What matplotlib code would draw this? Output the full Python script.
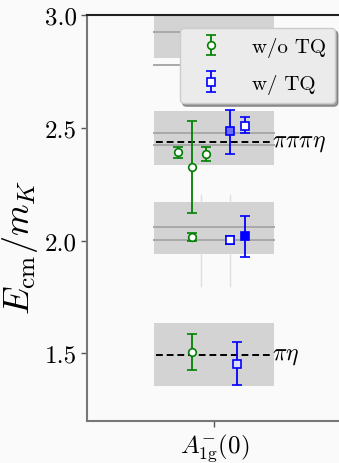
import numpy as np
import matplotlib
matplotlib.use("Agg")
from matplotlib import pyplot as plt

plt.rcParams['font.family'] = 'serif'
plt.rcParams['font.serif'] = ['cmr10']
plt.rcParams['mathtext.fontset'] = 'cm'
plt.rcParams['axes.formatter.use_mathtext'] = True

BG = '#fafafa'

# grey bands: (bottom, top) of each energy window
band_lo = [1.353, 1.942, 2.333, 2.810]
band_hi = [1.636, 2.170, 2.574, 3.080]
# reference levels drawn inside the bands
levels = [2.058, 2.001, 2.477, 2.422, 2.923, 2.779]
# thresholds
thr_y = [1.494, 2.437]
thr_label = [r'$\pi\eta$', r'$\pi\pi\pi\eta$']

# without TQ (green circles)
g_x = [-0.087, -0.087, -0.144, -0.087, -0.032]
g_y = [1.506, 2.015, 2.392, 2.324, 2.384]
g_lo = [0.080, 0.018, 0.025, 0.203, 0.033]
g_hi = [0.078, 0.017, 0.022, 0.204, 0.030]

# with TQ (blue squares), each with its own fill
b_x = [0.090, 0.063, 0.119, 0.063, 0.119]
b_y = [1.454, 2.004, 2.019, 2.484, 2.510]
b_lo = [0.094, 0.019, 0.094, 0.102, 0.035]
b_hi = [0.095, 0.018, 0.092, 0.097, 0.036]
b_fill = ['#dcdcff', 'white', 'blue', '#6e6ef2', 'white']

fig = plt.figure(figsize=(3.39, 4.64), dpi=100, facecolor=BG)
ax = fig.add_axes([0.257, 0.0905, 0.75, 0.875], facecolor=BG)

half = 0.235
for lo, hi in zip(band_lo, band_hi):
    ax.fill_between([-half, half], lo, hi, color='#d3d3d3', lw=0, zorder=1)
for lv in levels:
    ax.plot([-half, half], [lv, lv], color='#a8a8a8', lw=1.4, zorder=2)

# faint vertical guides
for vx in [-0.052, 0.061]:
    ax.plot([vx, vx], [1.80, 2.20], color='#dedede', lw=1.0, zorder=0.5)

for ty, tl in zip(thr_y, thr_label):
    ax.plot([-0.228, 0.228], [ty, ty], color='black', ls='--', lw=1.4,
            dashes=(3.5, 2), zorder=3)
    ax.text(0.228, ty, tl, fontsize=17, va='center', ha='left', zorder=3)

ax.errorbar(g_x, g_y, yerr=[g_lo, g_hi], fmt='o', color='green', mfc='white',
            mec='green', ms=5.5, mew=1.2, elinewidth=1.3, capsize=3.8,
            capthick=1.3, zorder=5, label='w/o TQ')
for i in range(len(b_x)):
    ax.errorbar(b_x[i], b_y[i], yerr=[[b_lo[i]], [b_hi[i]]], fmt='s',
                color='blue', mfc=b_fill[i], mec='blue', ms=5.5, mew=1.2,
                elinewidth=1.3, capsize=3.8, capthick=1.3, zorder=5,
                label='w/ TQ' if i == 1 else None)

ax.set_xlim(-0.5, 0.5)
ax.set_ylim(1.20, 3.0)
ax.set_xticks([0])
ax.set_xticklabels([r'$A_{1\mathrm{g}}^{-}(0)$'], fontsize=18)
ax.set_yticks([1.5, 2.0, 2.5, 3.0])
ax.set_yticklabels(['1.5', '2.0', '2.5', '3.0'], fontsize=18)
ax.set_ylabel(r'$E_{\mathrm{cm}}/m_K$', fontsize=26)
ax.yaxis.set_label_coords(-0.185, 0.43)
ax.tick_params(direction='out', length=4, width=1, color='#555555')
ax.tick_params(axis='x', pad=3)

for s in ['left', 'bottom']:
    ax.spines[s].set_color('#777777')
    ax.spines[s].set_linewidth(1.5)
ax.spines['top'].set_color('#222222')
ax.spines['top'].set_linewidth(1.5)
ax.spines['right'].set_visible(False)

leg = ax.legend(loc='upper right', bbox_to_anchor=(0.975, 0.968), fontsize=15,
                fancybox=True, shadow=True, framealpha=1, labelspacing=0.8,
                handletextpad=0.9, handlelength=2.1, borderpad=0.45,
                borderaxespad=0)
leg.get_frame().set_facecolor('#ebebeb')
leg.get_frame().set_edgecolor('#cccccc')

fig.savefig('out.png', dpi=100, facecolor=BG)
